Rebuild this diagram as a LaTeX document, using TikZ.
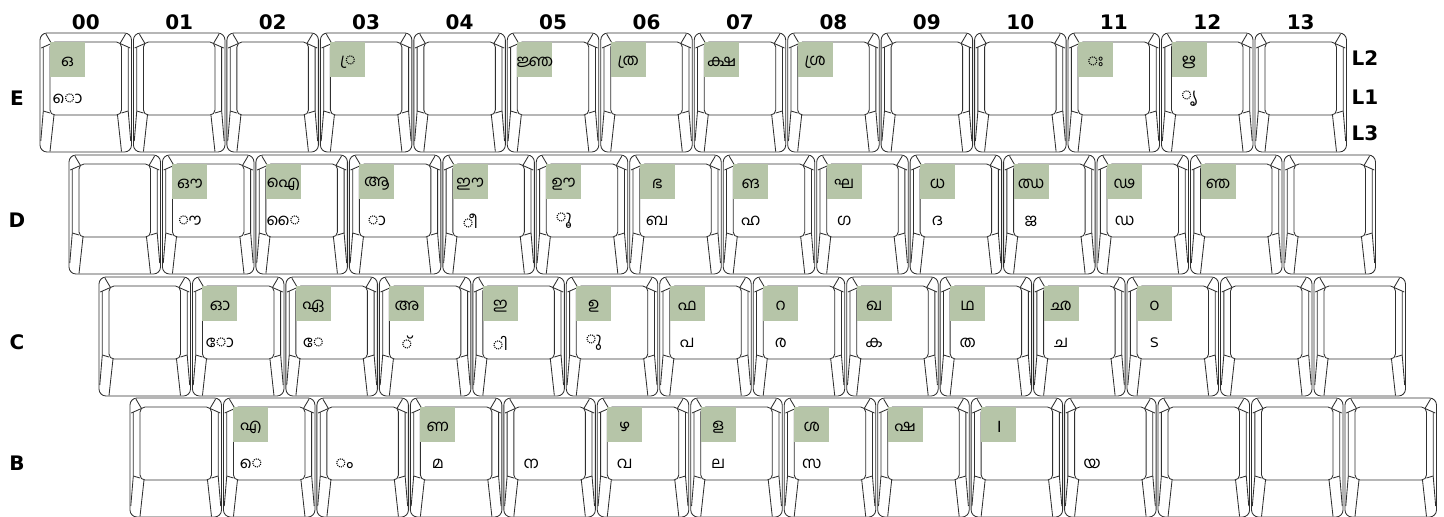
\documentclass[tikz,border=0pt]{standalone}
\usepackage{fontspec}
\setmainfont{DejaVu Sans}
\newfontfamily\mlfont[Script=Malayalam]{Hind Kochi}
\newfontfamily\devafont[Script=Devanagari]{Noto Sans}
\definecolor{lgreen}{HTML}{B6C5A8}
\definecolor{kline}{HTML}{303030}
\tikzset{
  keyline/.style={draw=kline, line width=0.85pt},
  l2box/.style={fill=lgreen, draw=none, inner sep=0pt, minimum width=35pt, minimum height=35pt},
  mltext/.style={inner sep=0pt, font=\mlfont\fontsize{16}{18}\selectfont},
  lbl/.style={inner sep=0pt, font=\bfseries\fontsize{20}{22}\selectfont},
  keycap/.pic={
    \draw[keyline, rounded corners=7pt] (0,0) rectangle (91.5,119);
    \draw[keyline, rounded corners=5pt] (10,9) rectangle (81.5,82);
    \draw[keyline] (3.3,14) -- (3.3,78) -- (0.8,108);
    \draw[keyline] (88.2,14) -- (88.2,78) -- (90.7,108);
    \draw[keyline] (3.3,78) -- (10,80);
    \draw[keyline] (88.2,78) -- (81.5,80);
    \draw[keyline] (14,82) -- (10,118.5);
    \draw[keyline] (77.5,82) -- (81.5,118.5);
    \draw[keyline] (11.5,10.5) -- (6,1.2);
    \draw[keyline] (11.5,10.5) -- (1.2,15);
    \draw[keyline] (80,10.5) -- (85.5,1.2);
    \draw[keyline] (80,10.5) -- (90.3,15);
  }
}
\newcommand\mlk[5]{%
  \pic (#1) at (#2,#3) {keycap};
  \if\relax\detokenize{#4}\relax\else
    \node[l2box] (#1-a) at (#2+27.5,#3+26.5) {};
    \node[mltext] (#1-b) at (#2+27.5,#3+29) {#4};
  \fi
  \if\relax\detokenize{#5}\relax\else
    \node[mltext] (#1-c) at (#2+27.5,#3+66) {#5};
  \fi
}
\begin{document}
\begin{tikzpicture}[x=1pt,y=-1pt]
\useasboundingbox (0,0) rectangle (1444,517);
% column labels
\foreach \i/\t in {0/00,1/01,2/02,3/03,4/04,5/05,6/06,7/07,8/08,9/09,10/10,11/11,12/12,13/13}
  \node[lbl] (col\t) at (40+45.75+\i*93.46,22) {\t};
% row labels
\node[lbl] (rowE) at (17,98) {E};
\node[lbl] (rowD) at (17,220) {D};
\node[lbl] (rowC) at (17,342) {C};
\node[lbl] (rowB) at (17,463) {B};
\node[lbl] (lvl2) at (1365,58) {L2};
\node[lbl] (lvl1) at (1365,97) {L1};
\node[lbl] (lvl3) at (1365,133) {L3};
% E row
\mlk{E00}{40+0*93.46}{33}{ഒ}{◌ൊ}
\mlk{E01}{40+1*93.46}{33}{}{}
\mlk{E02}{40+2*93.46}{33}{}{}
\mlk{E03}{40+3*93.46}{33}{◌്ര}{}
\mlk{E04}{40+4*93.46}{33}{}{}
\mlk{E05}{40+5*93.46}{33}{ജ്ഞ}{}
\mlk{E06}{40+6*93.46}{33}{ത്ര}{}
\mlk{E07}{40+7*93.46}{33}{ക്ഷ}{}
\mlk{E08}{40+8*93.46}{33}{ശ്ര}{}
\mlk{E09}{40+9*93.46}{33}{}{}
\mlk{E10}{40+10*93.46}{33}{}{}
\mlk{E11}{40+11*93.46}{33}{◌ഃ}{}
\mlk{E12}{40+12*93.46}{33}{ഋ}{◌ൃ}
\mlk{E13}{40+13*93.46}{33}{}{}
% D row
\mlk{D00}{69+0*93.46}{155}{}{}
\mlk{D01}{69+1*93.46}{155}{ഔ}{◌ൗ}
\mlk{D02}{69+2*93.46}{155}{ഐ}{◌ൈ}
\mlk{D03}{69+3*93.46}{155}{ആ}{◌ാ}
\mlk{D04}{69+4*93.46}{155}{ഈ}{◌ീ}
\mlk{D05}{69+5*93.46}{155}{ഊ}{◌ൂ}
\mlk{D06}{69+6*93.46}{155}{ഭ}{ബ}
\mlk{D07}{69+7*93.46}{155}{ങ}{ഹ}
\mlk{D08}{69+8*93.46}{155}{ഘ}{ഗ}
\mlk{D09}{69+9*93.46}{155}{ധ}{ദ}
\mlk{D10}{69+10*93.46}{155}{ഝ}{ജ}
\mlk{D11}{69+11*93.46}{155}{ഢ}{ഡ}
\mlk{D12}{69+12*93.46}{155}{ഞ}{}
\mlk{D13}{69+13*93.46}{155}{}{}
% C row
\mlk{C00}{99+0*93.46}{277}{}{}
\mlk{C01}{99+1*93.46}{277}{ഓ}{◌ോ}
\mlk{C02}{99+2*93.46}{277}{ഏ}{◌േ}
\mlk{C03}{99+3*93.46}{277}{അ}{◌്}
\mlk{C04}{99+4*93.46}{277}{ഇ}{◌ി}
\mlk{C05}{99+5*93.46}{277}{ഉ}{◌ു}
\mlk{C06}{99+6*93.46}{277}{ഫ}{പ}
\mlk{C07}{99+7*93.46}{277}{റ}{ര}
\mlk{C08}{99+8*93.46}{277}{ഖ}{ക}
\mlk{C09}{99+9*93.46}{277}{ഥ}{ത}
\mlk{C10}{99+10*93.46}{277}{ഛ}{ച}
\mlk{C11}{99+11*93.46}{277}{ഠ}{ട}
\mlk{C12}{99+12*93.46}{277}{}{}
\mlk{C13}{99+13*93.46}{277}{}{}
% B row
\mlk{B00}{130+0*93.46}{398}{}{}
\mlk{B01}{130+1*93.46}{398}{എ}{◌െ}
\mlk{B02}{130+2*93.46}{398}{}{◌ം}
\mlk{B03}{130+3*93.46}{398}{ണ}{മ}
\mlk{B04}{130+4*93.46}{398}{}{ന}
\mlk{B05}{130+5*93.46}{398}{ഴ}{വ}
\mlk{B06}{130+6*93.46}{398}{ള}{ല}
\mlk{B07}{130+7*93.46}{398}{ശ}{സ}
\mlk{B08}{130+8*93.46}{398}{ഷ}{}
\mlk{B09}{130+9*93.46}{398}{{\devafont\bfseries\fontsize{18}{20}\selectfont।}}{}
\mlk{B10}{130+10*93.46}{398}{}{യ}
\mlk{B11}{130+11*93.46}{398}{}{}
\mlk{B12}{130+12*93.46}{398}{}{}
\mlk{B13}{130+13*93.46}{398}{}{}
\end{tikzpicture}
\end{document}
